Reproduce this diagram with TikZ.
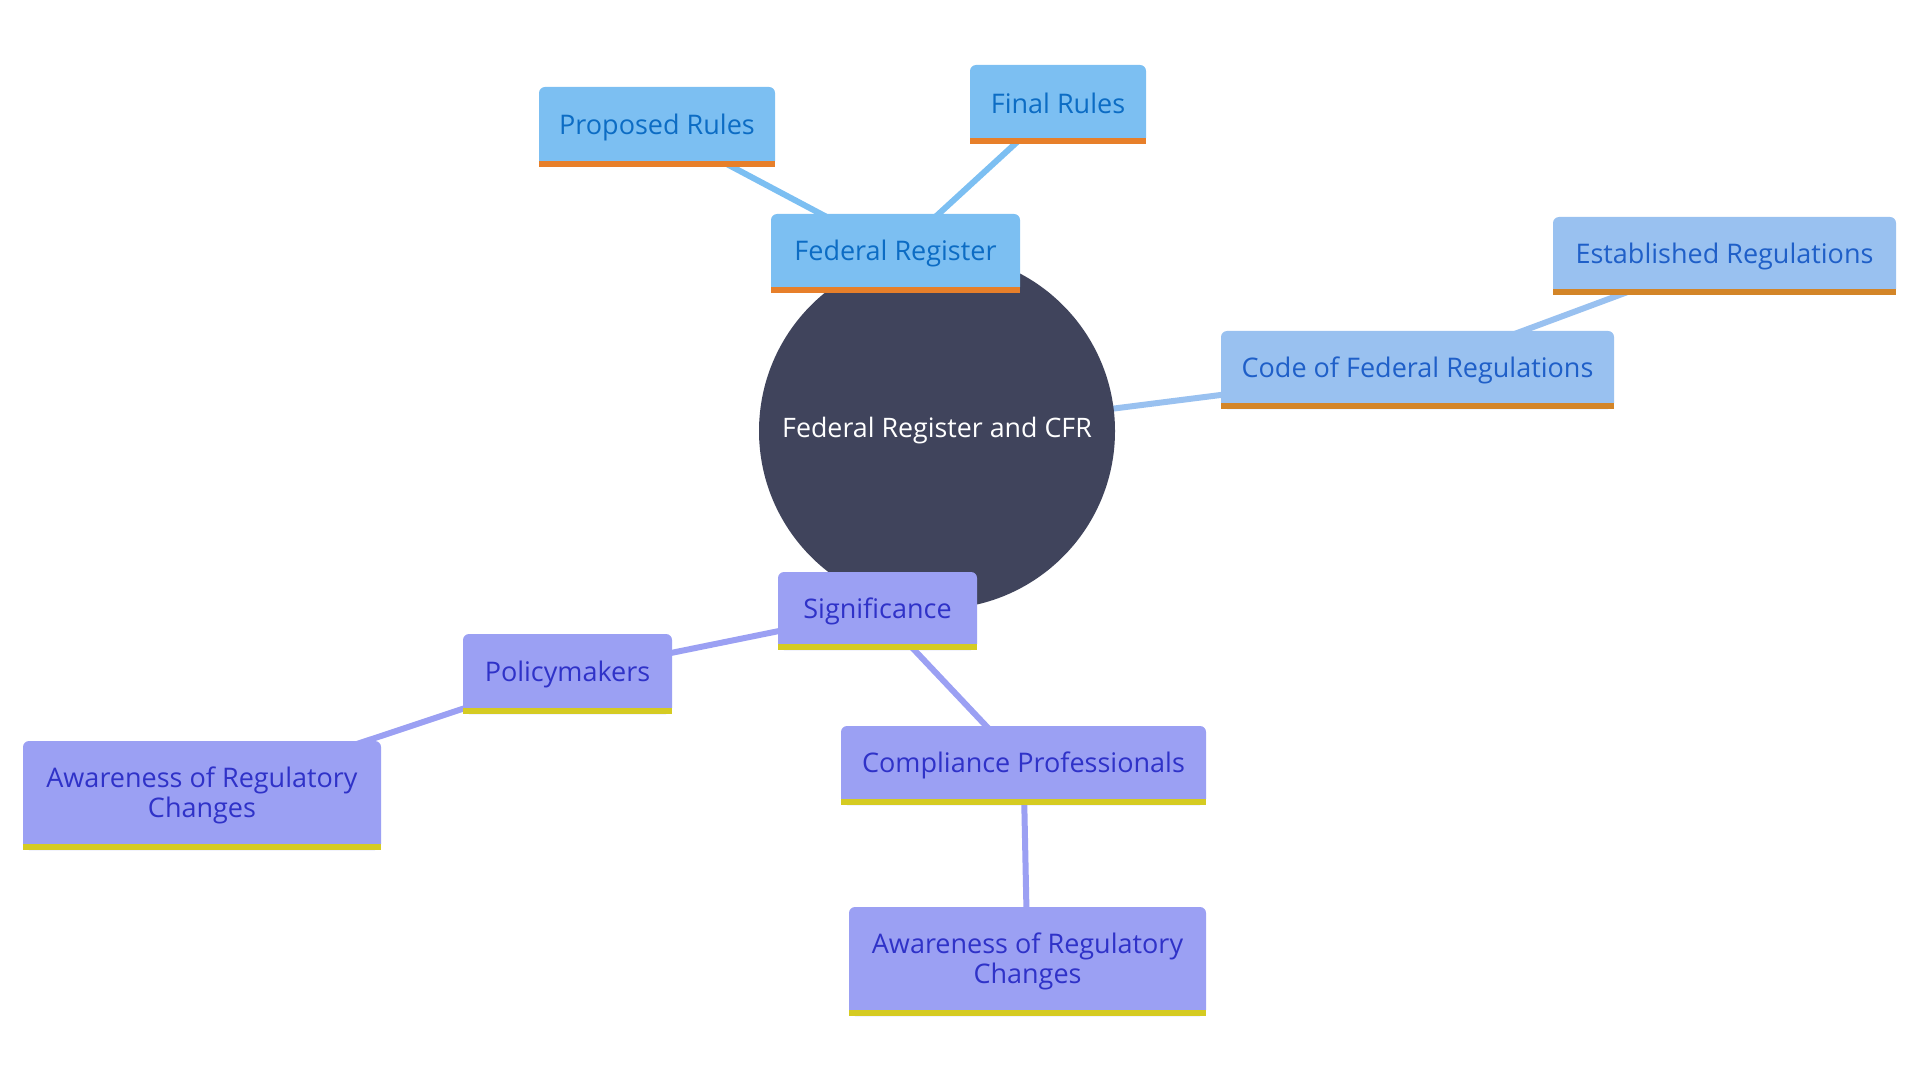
\documentclass[tikz,border=0pt]{standalone}
\usepackage{fontspec}
\setmainfont{Open Sans}
\usetikzlibrary{backgrounds}
\definecolor{circ}{HTML}{40445C}
\definecolor{bfill}{HTML}{7CBFF2}
\definecolor{btext}{HTML}{0C6CC4}
\definecolor{bstripe}{HTML}{E77F2A}
\definecolor{cfill}{HTML}{99C1F0}
\definecolor{ctext}{HTML}{1F5FC8}
\definecolor{cstripe}{HTML}{D38528}
\definecolor{pfill}{HTML}{9BA0F3}
\definecolor{ptext}{HTML}{2F32C8}
\definecolor{pstripe}{HTML}{D5CB22}
\tikzset{
  box/.style={rectangle, rounded corners=3pt, inner sep=0pt, align=center,
    font=\fontsize{13.5}{15.3}\selectfont},
  bluebox/.style={box, fill=bfill, text=btext},
  cfrbox/.style={box, fill=cfill, text=ctext},
  purbox/.style={box, fill=pfill, text=ptext},
  link/.style={line width=3pt},
}
\newcommand{\stripe}[2]{\fill[#2] (#1.south west) rectangle ([yshift=3pt]#1.south east);}
\newcommand{\up}[1]{\raisebox{1.5pt}{#1}}
\begin{document}
\begin{tikzpicture}[x=0.5pt,y=-0.5pt]
\useasboundingbox (0,0) rectangle (1920,1080);
\node[circle, fill=circ, minimum size=178pt, text=white, font=\fontsize{13.4}{15.3}\selectfont] (root) at (937,431) {Federal Register and CFR};

\node[bluebox, minimum width=124.5pt, minimum height=39.5pt] (fr) at (895.5,253.5) {\up{Federal Register}};
\node[bluebox, minimum width=118pt, minimum height=40pt] (pr) at (657,127) {\up{Proposed Rules}};
\node[bluebox, minimum width=88pt, minimum height=39.5pt] (fin) at (1058,104.5) {\up{Final Rules}};
\node[cfrbox, minimum width=196.5pt, minimum height=39pt] (cfr) at (1417.5,370) {\up{Code of Federal Regulations}};
\node[cfrbox, minimum width=171.5pt, minimum height=39pt] (est) at (1724.5,256) {\up{Established Regulations}};
\node[purbox, minimum width=99.5pt, minimum height=39pt] (sig) at (877.5,611) {\up{Significance}};
\node[purbox, minimum width=104.5pt, minimum height=40pt] (pol) at (567.5,674) {\up{Policymakers}};
\node[purbox, minimum width=179pt, minimum height=54.5pt] (aw1) at (202,795.5) {Awareness of Regulatory\\Changes};
\node[purbox, minimum width=182.5pt, minimum height=39.5pt] (comp) at (1023.5,765.5) {\up{Compliance Professionals}};
\node[purbox, minimum width=178.5pt, minimum height=54.5pt] (aw2) at (1027.5,961.5) {Awareness of Regulatory\\Changes};

\stripe{fr}{bstripe}
\stripe{pr}{bstripe}
\stripe{fin}{bstripe}
\stripe{cfr}{cstripe}
\stripe{est}{cstripe}
\stripe{sig}{pstripe}
\stripe{pol}{pstripe}
\stripe{aw1}{pstripe}
\stripe{comp}{pstripe}
\stripe{aw2}{pstripe}

\begin{scope}[on background layer]
\draw[link, bfill] (root.center) -- (fr.center);
\draw[link, bfill] (fr.center) -- (pr.center);
\draw[link, bfill] (fr.center) -- (fin.center);
\draw[link, cfill] (root.center) -- (cfr.center);
\draw[link, cfill] (cfr.center) -- (est.center);
\draw[link, pfill] (root.center) -- (sig.center);
\draw[link, pfill] (sig.center) -- (pol.center);
\draw[link, pfill] (pol.center) -- (aw1.center);
\draw[link, pfill] (sig.center) -- (comp.center);
\draw[link, pfill] (comp.center) -- (aw2.center);
\end{scope}
\end{tikzpicture}
\end{document}
